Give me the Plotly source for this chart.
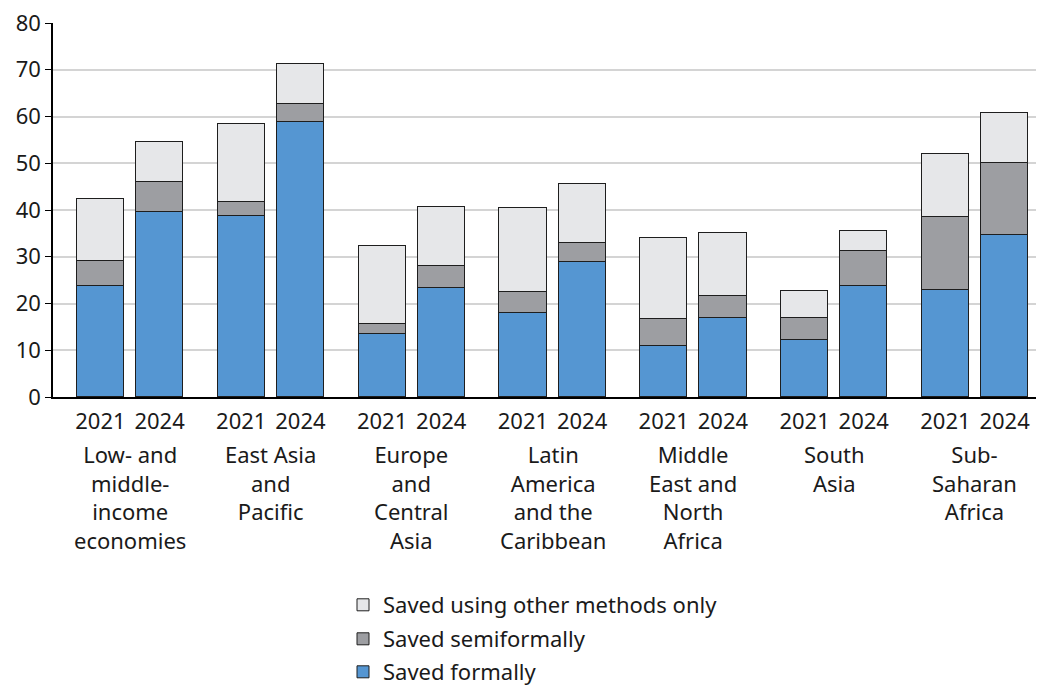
import plotly.graph_objects as go

regions = ["Low- and<br>middle-<br>income<br>economies", "East Asia<br>and<br>Pacific",
           "Europe<br>and<br>Central<br>Asia", "Latin<br>America<br>and the<br>Caribbean",
           "Middle<br>East and<br>North<br>Africa", "South<br>Asia", "Sub-<br>Saharan<br>Africa"]
years = ["2021", "2024"]

# values per region: [2021, 2024]
formal = [[23.7, 39.6], [38.8, 58.9], [13.4, 23.3], [17.9, 28.8], [10.9, 16.9], [12.3, 23.8], [22.9, 34.6]]
semiformal = [[5.4, 6.4], [2.9, 3.7], [2.2, 4.8], [4.6, 4.1], [5.8, 4.7], [4.7, 7.5], [15.5, 15.4]]
other_only = [[13.2, 8.5], [16.7, 8.7], [16.8, 12.5], [17.9, 12.6], [17.3, 13.5], [5.6, 4.3], [13.6, 10.7]]

series_names = ["Saved formally", "Saved semiformally", "Saved using other methods only"]
colors = ["#5596D2", "#9D9EA2", "#E6E7E9"]

offset = 0.21
xpos, ticktext = [], []
for i in range(len(regions)):
    for j, y in enumerate(years):
        xpos.append(i + (-offset if j == 0 else offset))
        ticktext.append(y)

def flat(a):
    return [v for pair in a for v in pair]

FONT = "Noto Sans"
PAGE_MARGIN = 8  # default body margin of the html page
W, H = 1044 - PAGE_MARGIN, 687 - PAGE_MARGIN
fig = go.Figure()
legends = ["legend4", "legend3", "legend2"]
for name, vals, col, lg in zip(series_names, [formal, semiformal, other_only], colors, legends):
    fig.add_trace(go.Bar(x=xpos, y=flat(vals), name=name, width=0.335,
                         marker=dict(color=col, line=dict(color="#1E1E1E", width=1)),
                         legend=lg))

for i, r in enumerate(regions):
    fig.add_annotation(x=i, y=0, xref="x", yref="paper", text=r, showarrow=False,
                       yanchor="top", yshift=-40, font=dict(family=FONT, size=22, color="#1a1a1a"),
                       align="center")

leg_common = dict(orientation="v", xanchor="left", yanchor="middle", bgcolor="rgba(0,0,0,0)",
                  xref="container", yref="container",
                  font=dict(family=FONT, size=22, color="#1a1a1a"), itemwidth=30)

def cy(pix):
    return 1 - (pix - PAGE_MARGIN) / H

lx = (343 - PAGE_MARGIN) / W
fig.update_layout(
    barmode="stack",
    width=W, height=H,
    margin=dict(l=45, r=0, t=15, b=290, autoexpand=False),
    plot_bgcolor="white", paper_bgcolor="white",
    font=dict(family=FONT, size=22, color="#1a1a1a"),
    legend2=dict(x=lx, y=cy(605), **leg_common),
    legend3=dict(x=lx, y=cy(639), **leg_common),
    legend4=dict(x=lx, y=cy(672), **leg_common),
    xaxis=dict(range=[-0.547, 6.49], tickmode="array", tickvals=xpos, ticktext=ticktext,
               showgrid=False, showline=True, linecolor="black", linewidth=1.5, ticks="",
               zeroline=False, automargin=False, ticklabelstandoff=4,
               tickfont=dict(family=FONT, size=22, color="#1a1a1a")),
    yaxis=dict(range=[0, 80], dtick=10, showgrid=True, gridcolor="#D4D4D4", gridwidth=1.5,
               showline=True, linecolor="black", linewidth=1.5, ticks="outside", ticklen=6,
               tickcolor="black", zeroline=False, automargin=False, ticklabeloverflow="allow",
               tickfont=dict(family=FONT, size=22, color="#1a1a1a")),
    bargap=0,
)

fig.write_html("out.html")
